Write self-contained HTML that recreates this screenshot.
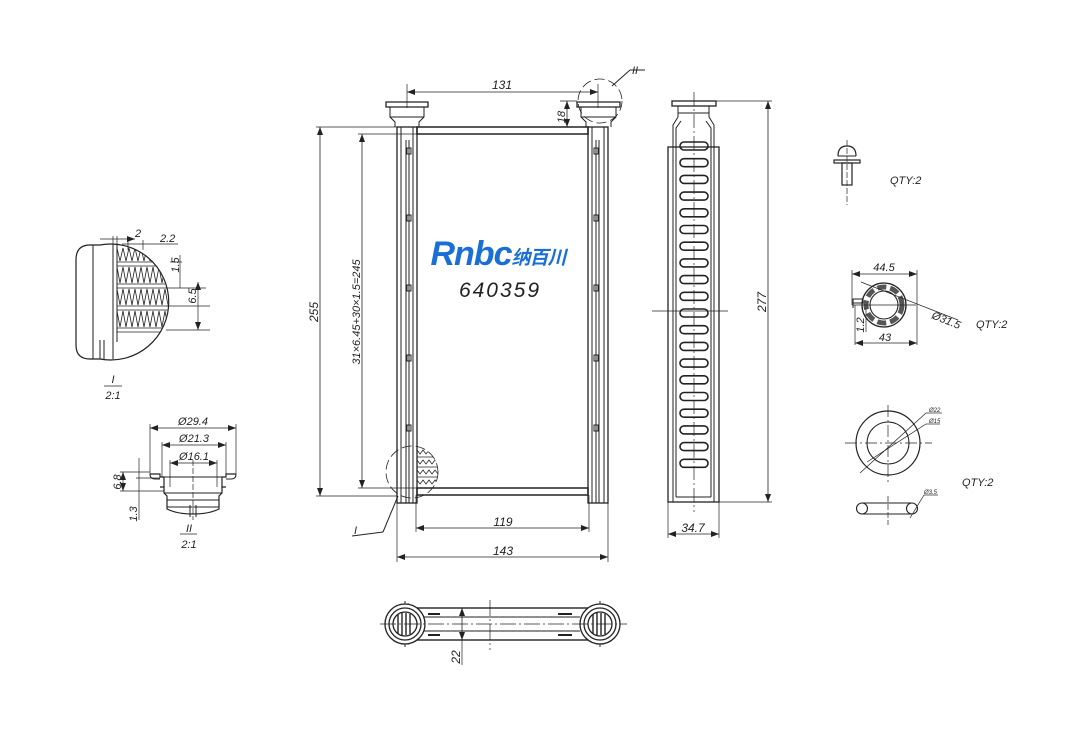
<!DOCTYPE html>
<html><head><meta charset="utf-8"><style>
html,body{margin:0;padding:0;background:#fff;}
svg{display:block;}
text{font-family:"Liberation Sans",sans-serif;font-style:italic;fill:#222;}
</style></head><body>
<svg width="1082" height="729" viewBox="0 0 1082 729" xmlns="http://www.w3.org/2000/svg">
<defs>
<marker id="a" markerWidth="8" markerHeight="6" refX="8" refY="3" orient="auto-start-reverse" markerUnits="userSpaceOnUse"><path d="M0,0 L8,3 L0,6 z" fill="#222"/></marker>
<clipPath id="c1"><circle cx="110" cy="302" r="58"/></clipPath>
<clipPath id="c2"><circle cx="412" cy="472" r="26"/></clipPath>
</defs>
<g stroke="#222" fill="none" stroke-width="1">
<!-- ===== FRONT VIEW ===== -->
<rect x="397" y="127" width="20" height="376" stroke-width="1.3"/>
<line x1="401" y1="127" x2="401" y2="503"/><line x1="413" y1="127" x2="413" y2="503"/>
<line x1="406" y1="140" x2="406" y2="503"/><line x1="409" y1="140" x2="409" y2="503"/>
<rect x="588" y="127" width="20" height="376" stroke-width="1.3"/>
<line x1="592" y1="127" x2="592" y2="503"/><line x1="604" y1="127" x2="604" y2="503"/>
<line x1="596" y1="140" x2="596" y2="503"/><line x1="599" y1="140" x2="599" y2="503"/>
<rect x="417" y="127" width="171" height="7" stroke-width="1.5"/>
<rect x="417" y="488" width="171" height="7" stroke-width="1.5"/>
<line x1="417" y1="134" x2="417" y2="488"/><line x1="588" y1="134" x2="588" y2="488"/>
<g stroke-width="1">
<rect x="407" y="148" width="4" height="6"/><rect x="407" y="215" width="4" height="6"/><rect x="407" y="285" width="4" height="6"/><rect x="407" y="355" width="4" height="6"/><rect x="407" y="425" width="4" height="6"/>
<rect x="594" y="148" width="4" height="6"/><rect x="594" y="215" width="4" height="6"/><rect x="594" y="285" width="4" height="6"/><rect x="594" y="355" width="4" height="6"/><rect x="594" y="425" width="4" height="6"/>
</g>
<path d="M386,102 h42 v5 h-42 z" stroke-width="1.3"/>
<path d="M390,107 v10 l5,5 v5 M424,107 v10 l-5,5 v5" />
<line x1="390" y1="117" x2="424" y2="117"/>
<path d="M577,102 h43 v5 h-43 z" stroke-width="1.3"/>
<path d="M581,107 v10 l5,5 v5 M616,107 v10 l-5,5 v5"/>
<line x1="581" y1="117" x2="616" y2="117"/>
<g clip-path="url(#c2)" stroke-width="0.8">
<path d="M417,450 l3,4 3,-4 3,4 3,-4 3,4 3,-4 3,4 3,-4 3,4 3,-4 M417,460 l3,4 3,-4 3,4 3,-4 3,4 3,-4 3,4 3,-4 3,4 3,-4 M417,470 l3,4 3,-4 3,4 3,-4 3,4 3,-4 3,4 3,-4 3,4 3,-4 M417,480 l3,4 3,-4 3,4 3,-4 3,4 3,-4 3,4 3,-4 3,4 3,-4"/>
<line x1="417" y1="457" x2="450" y2="457"/><line x1="417" y1="467" x2="450" y2="467"/><line x1="417" y1="477" x2="450" y2="477"/>
</g>
<circle cx="412" cy="472" r="26" stroke-dasharray="10,4" stroke-width="0.8"/>
<line x1="398" y1="496" x2="383" y2="532"/><line x1="383" y1="532" x2="352" y2="536"/>
<circle cx="600" cy="101" r="22" stroke-dasharray="10,4" stroke-width="0.8"/>
<line x1="612" y1="86" x2="630" y2="70"/><line x1="630" y1="70" x2="645" y2="70"/>
<line x1="407" y1="84" x2="407" y2="108" stroke-width="0.7"/><line x1="598" y1="84" x2="598" y2="108" stroke-width="0.7"/>
<line x1="407" y1="92" x2="598" y2="92" marker-start="url(#a)" marker-end="url(#a)" stroke-width="0.8"/>
<line x1="567" y1="101" x2="567" y2="127" marker-start="url(#a)" marker-end="url(#a)" stroke-width="0.8"/>
<line x1="560" y1="101" x2="577" y2="101" stroke-width="0.7"/>
<line x1="316" y1="127" x2="397" y2="127" stroke-width="0.7"/><line x1="316" y1="496" x2="397" y2="496" stroke-width="0.7"/>
<line x1="320" y1="127" x2="320" y2="496" marker-start="url(#a)" marker-end="url(#a)" stroke-width="0.8"/>
<line x1="358" y1="134" x2="417" y2="134" stroke-width="0.7"/><line x1="358" y1="488" x2="417" y2="488" stroke-width="0.7"/>
<line x1="362" y1="134" x2="362" y2="488" marker-start="url(#a)" marker-end="url(#a)" stroke-width="0.8"/>
<line x1="416" y1="495" x2="416" y2="532" stroke-width="0.7"/><line x1="589" y1="495" x2="589" y2="532" stroke-width="0.7"/>
<line x1="416" y1="528" x2="589" y2="528" marker-start="url(#a)" marker-end="url(#a)" stroke-width="0.8"/>
<line x1="397" y1="503" x2="397" y2="562" stroke-width="0.7"/><line x1="608" y1="503" x2="608" y2="562" stroke-width="0.7"/>
<line x1="397" y1="557" x2="608" y2="557" marker-start="url(#a)" marker-end="url(#a)" stroke-width="0.8"/>

<!-- ===== SIDE VIEW ===== -->
<rect x="668" y="147" width="51" height="355" stroke-width="1.3"/>
<path d="M673,502 V125 l5,-8 v-11 M714,502 V125 l-5,-8 v-11"/>
<path d="M676,497 V128 l5,-7 M711,497 V128 l-5,-7"/>
<rect x="672" y="101" width="44" height="5" stroke-width="1.3"/>
<line x1="678" y1="113" x2="709" y2="113"/>
<line x1="676" y1="497" x2="711" y2="497"/>
<g stroke-width="1.6">
<rect x="680" y="142" width="28" height="8" rx="4"/><rect x="680" y="158.7" width="28" height="8" rx="4"/><rect x="680" y="175.4" width="28" height="8" rx="4"/><rect x="680" y="192.1" width="28" height="8" rx="4"/><rect x="680" y="208.8" width="28" height="8" rx="4"/><rect x="680" y="225.5" width="28" height="8" rx="4"/><rect x="680" y="242.2" width="28" height="8" rx="4"/><rect x="680" y="258.9" width="28" height="8" rx="4"/><rect x="680" y="275.6" width="28" height="8" rx="4"/><rect x="680" y="292.3" width="28" height="8" rx="4"/><rect x="680" y="309" width="28" height="8" rx="4"/><rect x="680" y="325.7" width="28" height="8" rx="4"/><rect x="680" y="342.4" width="28" height="8" rx="4"/><rect x="680" y="359.1" width="28" height="8" rx="4"/><rect x="680" y="375.8" width="28" height="8" rx="4"/><rect x="680" y="392.5" width="28" height="8" rx="4"/><rect x="680" y="409.2" width="28" height="8" rx="4"/><rect x="680" y="425.9" width="28" height="8" rx="4"/><rect x="680" y="442.6" width="28" height="8" rx="4"/><rect x="680" y="459.3" width="28" height="8" rx="4"/>
</g>
<line x1="694" y1="92" x2="694" y2="512" stroke-dasharray="14,3,2,3" stroke-width="0.7"/>
<line x1="652" y1="311" x2="728" y2="311" stroke-width="0.7"/>
<line x1="716" y1="101" x2="772" y2="101" stroke-width="0.7"/><line x1="719" y1="502" x2="772" y2="502" stroke-width="0.7"/>
<line x1="768" y1="101" x2="768" y2="502" marker-start="url(#a)" marker-end="url(#a)" stroke-width="0.8"/>
<line x1="668" y1="502" x2="668" y2="538" stroke-width="0.7"/><line x1="719" y1="502" x2="719" y2="538" stroke-width="0.7"/>
<line x1="668" y1="534" x2="719" y2="534" marker-start="url(#a)" marker-end="url(#a)" stroke-width="0.8"/>

<!-- ===== DETAIL I ===== -->
<path d="M100,245 A58,58 0 1 1 100,359 H90 Q76,359 76,345 V260 Q76,245 90,245 Z" stroke-width="1.2"/>
<line x1="93" y1="245" x2="93" y2="359"/><line x1="113" y1="245" x2="113" y2="359"/><line x1="117" y1="245" x2="117" y2="342"/>
<line x1="100" y1="340" x2="100" y2="359"/><line x1="104" y1="340" x2="104" y2="359"/>
<g clip-path="url(#c1)" stroke-width="0.8">
<line x1="117" y1="262" x2="170" y2="262"/><line x1="117" y1="266" x2="170" y2="266"/>
<line x1="117" y1="284" x2="170" y2="284"/><line x1="117" y1="288" x2="170" y2="288"/>
<line x1="117" y1="306" x2="170" y2="306"/><line x1="117" y1="310" x2="170" y2="310"/>
<line x1="117" y1="328" x2="170" y2="328"/><line x1="117" y1="332" x2="170" y2="332"/>
<path d="M117,248 l3,13 3,-13 3,13 3,-13 3,13 3,-13 3,13 3,-13 3,13 3,-13 3,13 3,-13 3,13 3,-13 3,13 3,-13 3,13 3,-13"/>
<path d="M117,267 l3,16 3,-16 3,16 3,-16 3,16 3,-16 3,16 3,-16 3,16 3,-16 3,16 3,-16 3,16 3,-16 3,16 3,-16 3,16 3,-16"/>
<path d="M117,289 l3,16 3,-16 3,16 3,-16 3,16 3,-16 3,16 3,-16 3,16 3,-16 3,16 3,-16 3,16 3,-16 3,16 3,-16 3,16 3,-16"/>
<path d="M117,311 l3,16 3,-16 3,16 3,-16 3,16 3,-16 3,16 3,-16 3,16 3,-16 3,16 3,-16 3,16 3,-16 3,16 3,-16 3,16 3,-16"/>
</g>
<g stroke-width="0.7">
<line x1="113" y1="236" x2="113" y2="247"/><line x1="117" y1="236" x2="117" y2="247"/>
<line x1="100" y1="239" x2="135" y2="239" marker-end="url(#a)"/>
<line x1="128" y1="240" x2="128" y2="250"/><line x1="143" y1="240" x2="143" y2="250"/>
<line x1="122" y1="244" x2="178" y2="244"/>
<line x1="170" y1="262" x2="182" y2="262"/><line x1="180" y1="255" x2="180" y2="288" /><line x1="166" y1="288" x2="206" y2="288"/>
<line x1="166" y1="306" x2="210" y2="306"/><line x1="166" y1="330" x2="210" y2="330"/>
<line x1="198" y1="282" x2="198" y2="330" marker-start="url(#a)" marker-end="url(#a)"/>
</g>
<line x1="104" y1="386" x2="122" y2="386" stroke-width="0.7"/>

<!-- ===== DETAIL II ===== -->
<path d="M150,474 h10 v3 h4 v10 h-4 M236,474 h-10 v3 h-4 v10 h4" stroke-width="1.2"/>
<path d="M150,474 q0,5 5,5 h5 M236,474 q0,5 -5,5 h-5" stroke-width="1"/>
<path d="M160,477 h66" stroke-width="1.1"/>
<path d="M164,487 v6 l3,3 v13 q10,5 26,5 q16,0 26,-5 v-13 l3,-3 v-6" stroke-width="1.2"/>
<line x1="164" y1="493" x2="222" y2="493"/><line x1="167" y1="500" x2="219" y2="500"/>
<line x1="167" y1="507" x2="219" y2="507"/>
<line x1="190" y1="505" x2="190" y2="517"/><line x1="196" y1="505" x2="196" y2="517"/>
<line x1="193" y1="460" x2="193" y2="520" stroke-dasharray="6,2" stroke-width="0.7"/>
<g stroke-width="0.7">
<line x1="150" y1="424" x2="150" y2="474"/><line x1="236" y1="424" x2="236" y2="474"/>
<line x1="150" y1="428" x2="236" y2="428" marker-start="url(#a)" marker-end="url(#a)"/>
<line x1="162" y1="442" x2="162" y2="477"/><line x1="226" y1="442" x2="226" y2="477"/>
<line x1="162" y1="445" x2="226" y2="445" marker-start="url(#a)" marker-end="url(#a)"/>
<line x1="170" y1="460" x2="170" y2="487"/><line x1="217" y1="460" x2="217" y2="487"/>
<line x1="170" y1="463" x2="217" y2="463" marker-start="url(#a)" marker-end="url(#a)"/>
<line x1="120" y1="472" x2="150" y2="472"/><line x1="120" y1="491" x2="164" y2="491"/>
<line x1="123" y1="472" x2="123" y2="491" marker-start="url(#a)" marker-end="url(#a)"/>
<line x1="139" y1="458" x2="139" y2="520"/>
<line x1="136" y1="478" x2="160" y2="478"/>
</g>
<line x1="180" y1="534" x2="197" y2="534" stroke-width="0.7"/>

<!-- ===== BOTTOM VIEW ===== -->
<rect x="400" y="608" width="200" height="32" stroke-width="1.4"/>
<line x1="420" y1="617" x2="580" y2="617"/><line x1="420" y1="631" x2="580" y2="631"/>
<line x1="428" y1="614" x2="440" y2="614" stroke-width="2"/><line x1="428" y1="635" x2="440" y2="635" stroke-width="2"/>
<line x1="558" y1="614" x2="572" y2="614" stroke-width="2"/><line x1="558" y1="635" x2="572" y2="635" stroke-width="2"/>
<g fill="#fff" stroke-width="1.3">
<circle cx="405" cy="624" r="20"/><circle cx="405" cy="624" r="16"/><circle cx="405" cy="624" r="12"/>
<circle cx="600" cy="624" r="20"/><circle cx="600" cy="624" r="16"/><circle cx="600" cy="624" r="12"/>
</g>
<path d="M398,614 v20 M402,613 v22 M406,613 v22 M410,614 v20 M593,614 v20 M597,613 v22 M601,613 v22 M605,614 v20" stroke-width="1.4"/>
<path d="M405,601 v3 h4 M405,647 v-3 h4 M600,601 v3 h4 M600,647 v-3 h4"/>
<line x1="380" y1="624" x2="627" y2="624" stroke-dasharray="16,3,2,3" stroke-width="0.7"/>
<line x1="490" y1="600" x2="490" y2="650" stroke-dasharray="16,3,2,3" stroke-width="0.7"/>
<line x1="462" y1="608" x2="462" y2="640" marker-start="url(#a)" marker-end="url(#a)" stroke-width="0.8"/>
<line x1="462" y1="640" x2="462" y2="665" stroke-width="0.7"/>

<!-- ===== BOLT ===== -->
<path d="M838,156 q0,-10 9,-10 q9,0 9,10" stroke-width="1.2"/>
<line x1="838" y1="156" x2="856" y2="156"/>
<rect x="834" y="160" width="26" height="3" stroke-width="1.2"/>
<rect x="842" y="163" width="10" height="22" stroke-width="1.2"/>
<line x1="847" y1="140" x2="847" y2="205" stroke-dasharray="6,2" stroke-width="0.7"/>

<!-- ===== GROMMET RING ===== -->
<circle cx="884" cy="305" r="22" stroke-width="1.3"/>
<circle cx="884" cy="305" r="14" stroke-width="1.1"/>
<circle cx="884" cy="305" r="18" stroke-width="5" stroke="#555" stroke-dasharray="9,4"/>
<path d="M853,299 h10 v4 h-10 z" stroke-width="1.1"/><line x1="853" y1="303" x2="853" y2="308"/>
<line x1="852" y1="305" x2="916" y2="305" stroke-width="0.7"/>
<g stroke-width="0.7">
<line x1="852" y1="270" x2="852" y2="305"/><line x1="917" y1="270" x2="917" y2="345"/>
<line x1="852" y1="274" x2="917" y2="274" marker-start="url(#a)" marker-end="url(#a)"/>
<line x1="855" y1="305" x2="855" y2="345"/>
<line x1="855" y1="343" x2="917" y2="343" marker-start="url(#a)" marker-end="url(#a)"/>
<line x1="861" y1="282" x2="958" y2="320"/>
<line x1="866" y1="308" x2="866" y2="332"/>
</g>

<!-- ===== WASHER ===== -->
<circle cx="888" cy="443" r="32" stroke-width="1.2"/>
<circle cx="888" cy="443" r="21" stroke-width="1.1"/>
<line x1="845" y1="443" x2="932" y2="443" stroke-dasharray="12,3,2,3" stroke-width="0.7"/>
<line x1="888" y1="405" x2="888" y2="482" stroke-dasharray="12,3,2,3" stroke-width="0.7"/>
<line x1="860" y1="473" x2="926" y2="413" stroke-width="0.7"/><line x1="926" y1="413" x2="942" y2="413" stroke-width="0.7"/>
<line x1="867" y1="462" x2="926" y2="424" stroke-width="0.7"/><line x1="926" y1="424" x2="940" y2="424" stroke-width="0.7"/>
<path d="M862,503 h50 M862,514 h50" stroke-width="1.1"/>
<circle cx="862" cy="508.5" r="5.5" stroke-width="1.1" fill="#fff"/><circle cx="912" cy="508.5" r="5.5" stroke-width="1.1" fill="#fff"/>
<line x1="888" y1="496" x2="888" y2="525" stroke-dasharray="6,2" stroke-width="0.7"/>
<line x1="910" y1="518" x2="924" y2="495" stroke-width="0.7"/><line x1="924" y1="495" x2="938" y2="495" stroke-width="0.7"/>
</g>

<!-- ===== TEXT ===== -->
<g font-size="12">
<text x="502" y="89" text-anchor="middle">131</text>
<text transform="translate(565,117) rotate(-90)" text-anchor="middle" font-size="11">18</text>
<text x="632" y="74" font-size="11">II</text>
<text transform="translate(318,312) rotate(-90)" text-anchor="middle">255</text>
<text transform="translate(360,312) rotate(-90)" text-anchor="middle" font-size="11">31×6.45+30×1.5=245</text>
<text x="503" y="526" text-anchor="middle">119</text>
<text x="503" y="555" text-anchor="middle">143</text>
<text x="354" y="534" font-size="11">I</text>
<text transform="translate(766,302) rotate(-90)" text-anchor="middle">277</text>
<text x="693" y="532" text-anchor="middle">34.7</text>
<text transform="translate(460,657) rotate(-90)" text-anchor="middle">22</text>
<text x="135" y="237" font-size="11">2</text>
<text x="160" y="242" font-size="11">2.2</text>
<text transform="translate(179,265) rotate(-90)" text-anchor="middle" font-size="11">1.5</text>
<text transform="translate(196,296) rotate(-90)" text-anchor="middle" font-size="11">6.5</text>
<text x="113" y="383" text-anchor="middle" font-size="11">I</text>
<text x="113" y="399" text-anchor="middle" font-size="11">2:1</text>
<text x="193" y="425" text-anchor="middle" font-size="11">Ø29.4</text>
<text x="194" y="442" text-anchor="middle" font-size="11">Ø21.3</text>
<text x="194" y="460" text-anchor="middle" font-size="11">Ø16.1</text>
<text transform="translate(121,482) rotate(-90)" text-anchor="middle" font-size="11">6.8</text>
<text transform="translate(137,514) rotate(-90)" text-anchor="middle" font-size="11">1.3</text>
<text x="189" y="532" text-anchor="middle" font-size="11">II</text>
<text x="189" y="548" text-anchor="middle" font-size="11">2:1</text>
<text x="890" y="184" font-size="11">QTY:2</text>
<text x="884" y="271" text-anchor="middle" font-size="11">44.5</text>
<text x="931" y="318" font-size="11" transform="rotate(22,931,318)">Ø31.5</text>
<text transform="translate(864,325) rotate(-90)" text-anchor="middle" font-size="11">1.2</text>
<text x="885" y="341" text-anchor="middle" font-size="11">43</text>
<text x="976" y="328" font-size="11">QTY:2</text>
<text x="929" y="412" font-size="6">Ø22</text>
<text x="929" y="423" font-size="6">Ø15</text>
<text x="962" y="486" font-size="11">QTY:2</text>
<text x="924" y="494" font-size="6">Ø3.5</text>
</g>
<text x="498" y="265" text-anchor="middle" font-size="34" font-weight="bold" style="fill:#1a6fd6;font-family:'Liberation Sans','Noto Sans CJK SC',sans-serif;letter-spacing:-1px">Rnbc<tspan font-size="19" dy="-1">纳百川</tspan></text>
<text x="500" y="297" text-anchor="middle" font-size="21" letter-spacing="2">640359</text>
</svg>
</body></html>
